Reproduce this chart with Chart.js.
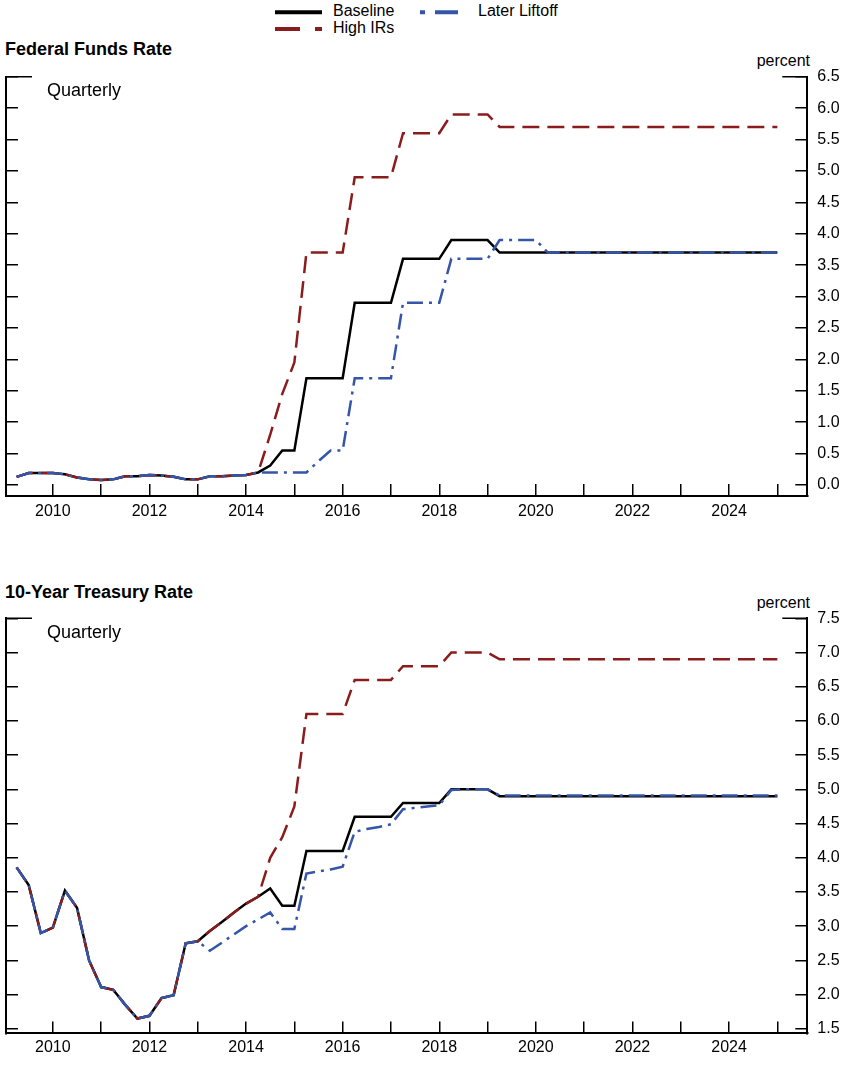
<!DOCTYPE html>
<html>
<head>
<meta charset="utf-8">
<script src="https://cdn.jsdelivr.net/npm/chart.js@4.4.1/dist/chart.umd.min.js"></script>
<style>
  body { margin: 0; background: #fff; font-family: "Liberation Sans", Arial, sans-serif; }
  #wrap { position: relative; width: 845px; height: 1065px; overflow: hidden; }
  .txt { position: absolute; white-space: nowrap; line-height: 1; color: #000; }
  .title { font-weight: bold; font-size: 18px; left: 5px; }
  .note { font-size: 18px; left: 47px; }
  .unit { font-size: 16px; right: 35px; }
  .leg { font-size: 16px; }
  canvas { position: absolute; left: 0; }
</style>
</head>
<body>
<div id="wrap">
  <svg style="position:absolute;left:0;top:0" width="845" height="40">
    <line x1="275" y1="12.3" x2="322" y2="12.3" stroke="#000" stroke-width="4"/>
    <line x1="420" y1="12.3" x2="458" y2="12.3" stroke="#3556a8" stroke-width="4" stroke-dasharray="5 10 23"/>
    <line x1="275" y1="29" x2="322" y2="29" stroke="#8b1c1c" stroke-width="4" stroke-dasharray="25 15 7"/>
  </svg>
  <div class="txt leg" style="left:333px;top:3px">Baseline</div>
  <div class="txt leg" style="left:478px;top:3px">Later Liftoff</div>
  <div class="txt leg" style="left:333px;top:20px">High IRs</div>

  <div class="txt title" style="top:39.5px">Federal Funds Rate</div>
  <div class="txt unit" style="top:53px">percent</div>
  <canvas id="ffChart" width="845" height="540" style="top:0"></canvas>
  <div class="txt note" style="top:81px">Quarterly</div>

  <div class="txt title" style="top:582.5px">10-Year Treasury Rate</div>
  <div class="txt unit" style="top:595px">percent</div>
  <canvas id="tyChart" width="845" height="525" style="top:540px"></canvas>
  <div class="txt note" style="top:623px">Quarterly</div>
</div>

<script>
const quarters = [
  '2009Q2','2009Q3','2009Q4',
  '2010Q1','2010Q2','2010Q3','2010Q4','2011Q1','2011Q2','2011Q3','2011Q4',
  '2012Q1','2012Q2','2012Q3','2012Q4','2013Q1','2013Q2','2013Q3','2013Q4',
  '2014Q1','2014Q2','2014Q3','2014Q4','2015Q1','2015Q2','2015Q3','2015Q4',
  '2016Q1','2016Q2','2016Q3','2016Q4','2017Q1','2017Q2','2017Q3','2017Q4',
  '2018Q1','2018Q2','2018Q3','2018Q4','2019Q1','2019Q2','2019Q3','2019Q4',
  '2020Q1','2020Q2','2020Q3','2020Q4','2021Q1','2021Q2','2021Q3','2021Q4',
  '2022Q1','2022Q2','2022Q3','2022Q4','2023Q1','2023Q2','2023Q3','2023Q4',
  '2024Q1','2024Q2','2024Q3','2024Q4','2025Q1'
];

// Federal funds rate, percent
const ffBaseline = [
  0.13,0.19,0.19, 0.19,0.17,0.12,0.09, 0.08,0.09,0.14,0.14,
  0.16,0.15,0.13,0.09, 0.09,0.14,0.14,0.15, 0.16,0.20,0.31,0.55,
  0.55,1.7,1.7,1.7, 1.7,2.9,2.9,2.9, 2.9,3.6,3.6,3.6, 3.6,3.9,3.9,3.9,
  3.9,3.7,3.7,3.7, 3.7,3.7,3.7,3.7, 3.7,3.7,3.7,3.7, 3.7,3.7,3.7,3.7,
  3.7,3.7,3.7,3.7, 3.7,3.7,3.7,3.7, 3.7
];
const ffHighIRs = [
  0.13,0.19,0.19, 0.19,0.17,0.12,0.09, 0.08,0.09,0.14,0.14,
  0.16,0.15,0.13,0.09, 0.09,0.14,0.14,0.15, 0.16,0.20,0.8,1.45,
  1.95,3.7,3.7,3.7, 3.7,4.9,4.9,4.9, 4.9,5.6,5.6,5.6, 5.6,5.9,5.9,5.9,
  5.9,5.7,5.7,5.7, 5.7,5.7,5.7,5.7, 5.7,5.7,5.7,5.7, 5.7,5.7,5.7,5.7,
  5.7,5.7,5.7,5.7, 5.7,5.7,5.7,5.7, 5.7
];
const ffLater = [
  0.13,0.19,0.19, 0.19,0.17,0.12,0.09, 0.08,0.09,0.14,0.14,
  0.16,0.15,0.13,0.09, 0.09,0.14,0.14,0.15, 0.16,0.20,0.20,0.20,
  0.20,0.20,0.38,0.55, 0.55,1.7,1.7,1.7, 1.7,2.9,2.9,2.9, 2.9,3.6,3.6,3.6,
  3.6,3.9,3.9,3.9, 3.9,3.7,3.7,3.7, 3.7,3.7,3.7,3.7, 3.7,3.7,3.7,3.7,
  3.7,3.7,3.7,3.7, 3.7,3.7,3.7,3.7, 3.7
];

// 10-year Treasury rate, percent
const tyBaseline = [
  3.86,3.60,2.90, 2.98,3.52,3.27,2.50, 2.11,2.07,1.85,1.65,
  1.69,1.95,1.99,2.75, 2.78,2.93,3.06,3.20, 3.33,3.43,3.55,3.30,
  3.30,4.1,4.1,4.1, 4.1,4.6,4.6,4.6, 4.6,4.8,4.8,4.8, 4.8,5.0,5.0,5.0,
  5.0,4.9,4.9,4.9, 4.9,4.9,4.9,4.9, 4.9,4.9,4.9,4.9, 4.9,4.9,4.9,4.9,
  4.9,4.9,4.9,4.9, 4.9,4.9,4.9,4.9, 4.9
];
const tyHighIRs = [
  3.86,3.60,2.90, 2.98,3.52,3.27,2.50, 2.11,2.07,1.85,1.65,
  1.69,1.95,1.99,2.75, 2.78,2.93,3.06,3.20, 3.33,3.43,4.0,4.3,
  4.75,6.1,6.1,6.1, 6.1,6.6,6.6,6.6, 6.6,6.8,6.8,6.8, 6.8,7.0,7.0,7.0,
  7.0,6.9,6.9,6.9, 6.9,6.9,6.9,6.9, 6.9,6.9,6.9,6.9, 6.9,6.9,6.9,6.9,
  6.9,6.9,6.9,6.9, 6.9,6.9,6.9,6.9, 6.9
];
const tyLater = [
  3.86,3.60,2.90, 2.98,3.52,3.27,2.50, 2.11,2.07,1.85,1.65,
  1.69,1.95,1.99,2.75, 2.78,2.64,2.76,2.88, 3.0,3.1,3.2,2.96,
  2.96,3.77,3.80,3.83, 3.87,4.38,4.42,4.45, 4.49,4.71,4.73,4.75, 4.77,4.99,5.0,5.0,
  5.0,4.91,4.91,4.91, 4.91,4.91,4.91,4.91, 4.91,4.91,4.91,4.91, 4.91,4.91,4.91,4.91,
  4.91,4.91,4.91,4.91, 4.91,4.91,4.91,4.91, 4.91
];

const xTickYears = [2010, 2012, 2014, 2016, 2018, 2020, 2022, 2024];

const quarterX = quarters.map(q => Number(q.slice(0, 4)) + (Number(q[5]) - 1) / 4);
const toPoints = vals => vals.map((v, i) => ({ x: quarterX[i], y: v }));

const BLACK = '#000000', RED = '#8b1c1c', BLUE = '#3556a8';

// the topmost tick on each side is longer, like a frame corner
const cornerTicks = {
  id: 'cornerTicks',
  afterDraw(chart) {
    const { ctx, chartArea: a } = chart;
    ctx.save();
    ctx.strokeStyle = '#000';
    ctx.lineWidth = 1.5;
    ctx.beginPath();
    ctx.moveTo(a.left, a.top); ctx.lineTo(a.left + 26, a.top);
    ctx.moveTo(a.right - 25, a.top); ctx.lineTo(a.right, a.top);
    ctx.stroke();
    ctx.restore();
  }
};

function makeChart(id, base, high, later, yMin, yMax, padTop, xAxisH, xLabelPad) {
  const gridOpts = len => ({
    display: true, drawOnChartArea: false, drawTicks: true, tickLength: len,
    color: '#000', tickColor: '#000', tickWidth: 1.5, lineWidth: 1.5
  });
  const yCommon = {
    type: 'linear', min: yMin, max: yMax,
    border: { display: true, color: '#000', width: 2 },
    grid: gridOpts(-12)
  };
  return new Chart(document.getElementById(id), {
    type: 'line',
    data: {
      datasets: [
        { label: 'Later Liftoff', data: toPoints(later), borderColor: BLUE, borderWidth: 2.5,
          borderDash: [16, 6, 3, 6], order: 0 },
        { label: 'High IRs', data: toPoints(high), borderColor: RED, borderWidth: 2.5,
          borderDash: [17, 8], order: 1 },
        { label: 'Baseline', data: toPoints(base), borderColor: BLACK, borderWidth: 2.5, order: 2 }
      ]
    },
    options: {
      responsive: false,
      animation: false,
      events: [],
      layout: { padding: { top: padTop, left: 6, right: 0, bottom: 0 } },
      elements: { point: { radius: 0 }, line: { tension: 0 } },
      plugins: { legend: { display: false }, tooltip: { enabled: false } },
      scales: {
        x: {
          type: 'linear', position: 'bottom', min: 2009.03, max: 2025.62,
          border: { display: true, color: '#000', width: 2 },
          grid: gridOpts(-12),
          ticks: {
            stepSize: 1, includeBounds: false, autoSkip: false, maxRotation: 0,
            padding: xLabelPad, color: '#000',
            font: { family: '"Liberation Sans", Arial, sans-serif', size: 16 },
            callback: v => xTickYears.includes(v) ? String(v) : ''
          },
          afterFit: s => { s.height = xAxisH; }
        },
        yLeft: Object.assign({}, yCommon, {
          position: 'left',
          ticks: { stepSize: 0.5, includeBounds: false, display: false },
          afterFit: s => { s.width = 0; }
        }),
        y: Object.assign({}, yCommon, {
          position: 'right',
          ticks: {
            stepSize: 0.5, includeBounds: false, padding: 22, color: '#000',
            font: { family: '"Liberation Sans", Arial, sans-serif', size: 16 },
            callback: v => v.toFixed(1)
          },
          afterFit: s => { s.width = 37.7; }
        })
      }
    },
    plugins: [cornerTicks]
  });
}

makeChart('ffChart', ffBaseline, ffHighIRs, ffLater, -0.175, 6.5, 76.7, 44, 18.4);
makeChart('tyChart', tyBaseline, tyHighIRs, tyLater, 1.433, 7.5, 78.3, 27.7, 16.8);
</script>
</body>
</html>
